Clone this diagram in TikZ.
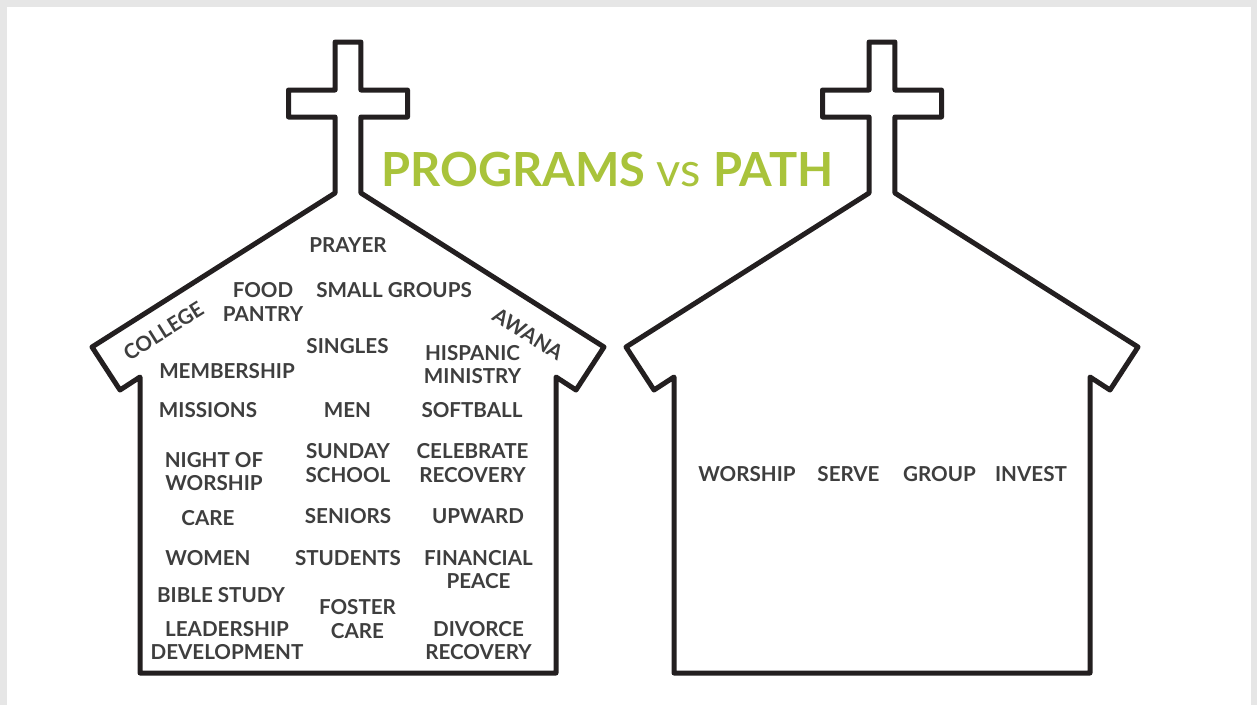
\documentclass[tikz,border=0pt]{standalone}
\usepackage{fontspec}
\setmainfont{Lato}
\definecolor{txt}{HTML}{3E3E3E}
\definecolor{grn}{HTML}{A9C33B}
\definecolor{ink}{HTML}{231F20}
\definecolor{frame}{HTML}{E6E6E6}
\tikzset{
  churchline/.style={draw=ink, line width=5pt, line join=round, line cap=round},
  lbl/.style={text=txt, font=\fontsize{20.6}{23.5}\selectfont\bfseries, align=center, inner sep=0pt},
  church/.pic={
    \path[churchline] (-12.9,-193) -- (-12.9,-117) -- (-59.5,-117) -- (-59.5,-90) -- (-12.9,-90)
      -- (-12.9,-42) -- (12.9,-42) -- (12.9,-90) -- (59.5,-90) -- (59.5,-117) -- (12.9,-117)
      -- (12.9,-193) -- (256,-347) -- (228,-390) -- (208,-377) -- (208,-673) -- (-208,-673)
      -- (-208,-377) -- (-228,-390) -- (-256,-347) -- cycle;
  }
}
\begin{document}
\begin{tikzpicture}[x=1pt,y=1pt]
\useasboundingbox (0,0) rectangle (1257,-705);
\fill[frame] (0,0) rectangle (1257,-705);
\fill[white] (7,-7) rectangle (1251,-705);
\pic at (348,0) {church};
\pic at (882,0) {church};
\node[font=\fontsize{47}{50}\selectfont, text=grn, inner sep=0pt, anchor=base] (title) at (607.5,-186.5)
  {\bfseries PROGRAMS \mdseries vs \bfseries PATH};
% left church
\node[lbl] (prayer) at (348,-245) {PRAYER};
\node[lbl] (food) at (263,-302) {FOOD\\PANTRY};
\node[lbl] (small) at (394,-290) {SMALL GROUPS};
\node[lbl, rotate=32] (college) at (163.5,-331) {COLLEGE};
\node[lbl, rotate=-32] (awana) at (528,-334) {AWANA};
\node[lbl] (singles) at (347.5,-346) {SINGLES};
\node[lbl] (hispanic) at (472.5,-364.5) {HISPANIC\\MINISTRY};
\node[lbl] (membership) at (227,-371) {MEMBERSHIP};
\node[lbl] (missions) at (208,-410) {MISSIONS};
\node[lbl] (men) at (347.5,-410) {MEN};
\node[lbl] (softball) at (472,-410) {SOFTBALL};
\node[lbl] (night) at (214,-471.5) {NIGHT OF\\WORSHIP};
\node[lbl] (sunday) at (348,-463) {SUNDAY\\SCHOOL};
\node[lbl] (celebrate) at (472.5,-463) {CELEBRATE\\RECOVERY};
\node[lbl] (care) at (208,-518) {CARE};
\node[lbl] (seniors) at (348,-516) {SENIORS};
\node[lbl] (upward) at (478,-516) {UPWARD};
\node[lbl] (women) at (208,-558) {WOMEN};
\node[lbl] (students) at (348,-558) {STUDENTS};
\node[lbl] (financial) at (478.5,-569.5) {FINANCIAL\\PEACE};
\node[lbl] (bible) at (221,-595) {BIBLE STUDY};
\node[lbl] (foster) at (357.5,-619) {FOSTER\\CARE};
\node[lbl] (leadership) at (227,-640.5) {LEADERSHIP\\DEVELOPMENT};
\node[lbl] (divorce) at (478.5,-640.5) {DIVORCE\\RECOVERY};
% right church
\node[lbl] (worship) at (747,-474.5) {WORSHIP};
\node[lbl] (serve) at (848.5,-474.5) {SERVE};
\node[lbl] (group) at (939.5,-474.5) {GROUP};
\node[lbl] (invest) at (1031,-474.5) {INVEST};
\end{tikzpicture}
\end{document}
